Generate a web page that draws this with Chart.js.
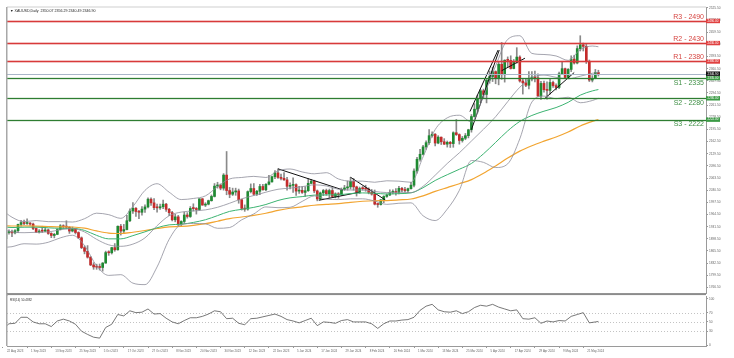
<!DOCTYPE html>
<html>
<head>
<meta charset="utf-8">
<script src="https://cdn.jsdelivr.net/npm/chart.js@4.4.1/dist/chart.umd.min.js"></script>
<style>
  html, body { margin:0; padding:0; background:#fff; }
  #wrap { position:relative; width:734px; height:358px; overflow:hidden; }
  #main { position:absolute; left:0; top:0; }
  #rsi  { position:absolute; left:0; top:294px; }
</style>
</head>
<body>
<div id="wrap">
  <canvas id="main" width="734" height="296"></canvas>
  <canvas id="rsi" width="734" height="64"></canvas>
</div>
<script>
// XAUUSD daily, 22 Aug 2023 -> 28 May 2024
const dates = [
  '22 Aug 2023','23 Aug 2023','24 Aug 2023','25 Aug 2023','28 Aug 2023','29 Aug 2023','30 Aug 2023','31 Aug 2023',
  '1 Sep 2023','4 Sep 2023','5 Sep 2023','6 Sep 2023','7 Sep 2023','8 Sep 2023','11 Sep 2023','12 Sep 2023',
  '13 Sep 2023','14 Sep 2023','15 Sep 2023','18 Sep 2023','19 Sep 2023','20 Sep 2023','21 Sep 2023','22 Sep 2023',
  '25 Sep 2023','26 Sep 2023','27 Sep 2023','28 Sep 2023','29 Sep 2023','2 Oct 2023','3 Oct 2023','4 Oct 2023',
  '5 Oct 2023','6 Oct 2023','9 Oct 2023','10 Oct 2023','11 Oct 2023','12 Oct 2023','13 Oct 2023','16 Oct 2023',
  '17 Oct 2023','18 Oct 2023','19 Oct 2023','20 Oct 2023','23 Oct 2023','24 Oct 2023','25 Oct 2023','26 Oct 2023',
  '27 Oct 2023','30 Oct 2023','31 Oct 2023','1 Nov 2023','2 Nov 2023','3 Nov 2023','6 Nov 2023','7 Nov 2023',
  '8 Nov 2023','9 Nov 2023','10 Nov 2023','13 Nov 2023','14 Nov 2023','15 Nov 2023','16 Nov 2023','17 Nov 2023',
  '20 Nov 2023','21 Nov 2023','22 Nov 2023','23 Nov 2023','24 Nov 2023','27 Nov 2023','28 Nov 2023','29 Nov 2023',
  '30 Nov 2023','1 Dec 2023','4 Dec 2023','5 Dec 2023','6 Dec 2023','7 Dec 2023','8 Dec 2023','11 Dec 2023',
  '12 Dec 2023','13 Dec 2023','14 Dec 2023','15 Dec 2023','18 Dec 2023','19 Dec 2023','20 Dec 2023','21 Dec 2023',
  '22 Dec 2023','26 Dec 2023','27 Dec 2023','28 Dec 2023','29 Dec 2023','2 Jan 2024','3 Jan 2024','4 Jan 2024',
  '5 Jan 2024','8 Jan 2024','9 Jan 2024','10 Jan 2024','11 Jan 2024','12 Jan 2024','15 Jan 2024','16 Jan 2024',
  '17 Jan 2024','18 Jan 2024','19 Jan 2024','22 Jan 2024','23 Jan 2024','24 Jan 2024','25 Jan 2024','26 Jan 2024',
  '29 Jan 2024','30 Jan 2024','31 Jan 2024','1 Feb 2024','2 Feb 2024','5 Feb 2024','6 Feb 2024','7 Feb 2024',
  '8 Feb 2024','9 Feb 2024','12 Feb 2024','13 Feb 2024','14 Feb 2024','15 Feb 2024','16 Feb 2024','19 Feb 2024',
  '20 Feb 2024','21 Feb 2024','22 Feb 2024','23 Feb 2024','26 Feb 2024','27 Feb 2024','28 Feb 2024','29 Feb 2024',
  '1 Mar 2024','4 Mar 2024','5 Mar 2024','6 Mar 2024','7 Mar 2024','8 Mar 2024','11 Mar 2024','12 Mar 2024',
  '13 Mar 2024','14 Mar 2024','15 Mar 2024','18 Mar 2024','19 Mar 2024','20 Mar 2024','21 Mar 2024','22 Mar 2024',
  '25 Mar 2024','26 Mar 2024','27 Mar 2024','28 Mar 2024','1 Apr 2024','2 Apr 2024','3 Apr 2024','4 Apr 2024',
  '5 Apr 2024','8 Apr 2024','9 Apr 2024','10 Apr 2024','11 Apr 2024','12 Apr 2024','15 Apr 2024','16 Apr 2024',
  '17 Apr 2024','18 Apr 2024','19 Apr 2024','22 Apr 2024','23 Apr 2024','24 Apr 2024','25 Apr 2024','26 Apr 2024',
  '29 Apr 2024','30 Apr 2024','1 May 2024','2 May 2024','3 May 2024','6 May 2024','7 May 2024','8 May 2024',
  '9 May 2024','10 May 2024','13 May 2024','14 May 2024','15 May 2024','16 May 2024','17 May 2024','20 May 2024',
  '21 May 2024','22 May 2024','23 May 2024','24 May 2024','27 May 2024','28 May 2024'
];

const opens = [
  1894.5,1899.0,1915.5,1917.0,1914.5,1920.5,1937.5,1942.5,1940.0,1940.0,
  1938.5,1926.5,1916.5,1919.5,1919.0,1922.5,1913.0,1907.5,1910.5,1923.5,
  1933.5,1931.0,1930.0,1919.5,1925.0,1915.5,1901.0,1874.5,1864.5,1848.5,
  1827.5,1822.0,1821.5,1820.5,1832.5,1861.0,1860.5,1874.5,1868.5,1932.5,
  1919.5,1923.5,1947.5,1974.0,1981.5,1972.5,1970.5,1979.0,1985.0,2006.0,
  1996.0,1983.0,1982.5,1985.5,1992.5,1978.5,1969.5,1950.0,1958.0,1938.0,
  1945.5,1963.0,1959.0,1981.0,1980.5,1978.0,2007.0,1990.0,1992.5,2002.0,
  2013.5,2041.5,2044.5,2036.0,2071.5,2029.5,2019.5,2025.5,2028.5,2004.5,
  1981.0,1979.0,2026.5,2035.0,2019.5,2027.5,2040.5,2031.5,2046.5,2053.0,
  2067.0,2077.5,2065.0,2062.5,2058.5,2041.0,2043.5,2045.5,2028.0,2030.0,
  2024.5,2029.0,2049.0,2055.0,2028.5,2006.5,2023.0,2029.5,2021.0,2029.5,
  2013.5,2020.5,2018.0,2032.5,2036.5,2039.5,2054.5,2039.5,2024.5,2035.0,
  2034.5,2033.5,2024.5,2020.0,1992.5,1991.5,2004.0,2013.5,2017.5,2024.5,
  2025.5,2024.5,2035.5,2031.0,2029.5,2034.5,2044.0,2082.5,2114.5,2128.0,
  2148.0,2159.5,2178.5,2182.5,2158.5,2174.5,2162.0,2155.5,2160.5,2157.0,
  2186.5,2181.5,2165.5,2171.5,2178.5,2194.5,2230.5,2250.5,2280.0,2300.5,
  2290.5,2329.5,2339.0,2352.5,2333.5,2372.5,2344.0,2383.5,2383.0,2361.0,
  2379.0,2392.0,2327.0,2322.0,2315.5,2332.5,2337.5,2335.5,2286.0,2320.5,
  2303.5,2301.5,2323.0,2314.5,2309.5,2346.5,2360.5,2336.5,2358.5,2386.5,
  2376.0,2415.0,2425.5,2421.0,2379.5,2329.5,2334.0,2350.07
];
const highs = [
  1903.5,1917.0,1922.5,1922.0,1923.5,1938.5,1948.5,1949.5,1952.5,1942.5,
  1941.0,1928.5,1923.5,1932.5,1929.5,1925.0,1915.0,1913.5,1925.5,1937.0,
  1936.5,1947.5,1931.5,1930.5,1926.0,1917.5,1903.5,1879.5,1880.0,1850.0,
  1833.5,1829.5,1830.0,1834.0,1865.0,1866.0,1875.5,1885.5,1933.5,1937.5,
  1937.5,1962.5,1980.0,1997.0,1983.0,1975.5,1986.0,1990.5,2009.5,2009.5,
  2007.5,1993.0,1993.0,2003.5,1995.0,1981.0,1973.0,1965.0,1962.0,1947.5,
  1971.0,1969.5,1986.0,1993.5,1983.5,2007.5,2008.0,1996.5,2003.5,2017.5,
  2048.5,2052.0,2047.5,2075.5,2135.5,2038.0,2036.0,2036.0,2033.5,2006.0,
  1990.5,2028.5,2047.5,2048.5,2030.0,2046.5,2046.5,2048.5,2070.5,2068.5,
  2083.5,2088.5,2074.5,2078.5,2065.5,2050.5,2064.0,2048.0,2041.0,2040.5,
  2040.0,2062.5,2060.0,2057.5,2031.0,2025.5,2032.5,2033.5,2033.5,2037.0,
  2023.5,2024.0,2036.5,2043.5,2055.5,2065.5,2062.0,2041.5,2039.0,2040.5,
  2044.0,2037.0,2032.5,2031.0,1995.5,2005.5,2015.5,2020.5,2031.5,2031.5,
  2034.5,2041.0,2038.5,2038.5,2036.0,2052.0,2088.5,2119.5,2141.5,2152.5,
  2164.5,2195.0,2189.0,2184.5,2178.5,2175.0,2170.5,2164.0,2163.0,2189.0,
  2222.5,2183.5,2176.5,2184.5,2196.0,2236.0,2265.5,2288.5,2304.5,2305.0,
  2331.0,2354.0,2365.0,2354.5,2378.5,2431.5,2384.5,2392.5,2395.5,2385.5,
  2417.5,2395.5,2334.0,2332.0,2352.5,2352.5,2354.0,2346.5,2326.0,2326.5,
  2324.5,2331.5,2326.5,2319.0,2351.5,2378.5,2362.0,2361.0,2395.5,2397.0,
  2422.5,2450.0,2430.0,2426.5,2384.0,2341.5,2358.5,2356.29
];
const lows = [
  1893.5,1896.0,1911.0,1904.5,1912.0,1915.0,1932.5,1937.0,1937.5,1935.0,
  1923.0,1915.5,1914.0,1915.5,1918.0,1910.5,1901.5,1901.0,1909.5,1922.5,
  1926.5,1925.5,1913.0,1917.0,1911.5,1899.5,1871.5,1857.5,1846.0,1825.5,
  1815.5,1815.5,1813.5,1810.5,1832.0,1853.5,1857.0,1864.5,1867.5,1908.5,
  1915.0,1922.5,1945.0,1967.5,1959.5,1953.0,1962.5,1970.0,1982.0,1989.0,
  1977.5,1970.5,1978.5,1980.0,1972.5,1961.5,1947.0,1944.5,1931.5,1932.0,
  1940.5,1954.5,1956.5,1974.0,1965.5,1975.5,1989.5,1986.0,1990.5,2000.5,
  2012.0,2036.0,2031.5,2030.5,2018.0,2010.0,2016.0,2016.5,1995.0,1976.5,
  1973.0,1976.0,2023.0,2016.5,2016.0,2018.0,2030.5,2029.0,2045.0,2052.0,
  2061.5,2062.5,2058.5,2057.0,2030.5,2034.0,2024.5,2016.5,2021.5,2021.5,
  2013.5,2027.0,2048.0,2023.5,2001.5,2004.5,2015.5,2016.5,2010.5,2011.5,
  2009.5,2008.5,2016.0,2030.0,2030.5,2033.5,2030.5,2014.5,2021.5,2030.5,
  2027.5,2020.5,2017.0,1990.5,1984.0,1990.0,1996.5,2011.0,2015.5,2020.5,
  2017.0,2020.5,2025.5,2025.0,2024.0,2033.0,2039.5,2077.0,2109.5,2126.0,
  2141.0,2154.5,2174.5,2150.5,2156.5,2154.5,2154.5,2147.5,2146.5,2147.0,
  2179.0,2155.5,2161.0,2167.5,2172.5,2188.0,2228.5,2240.5,2268.0,2279.5,
  2267.5,2321.0,2325.5,2319.5,2316.5,2331.5,2324.0,2365.0,2359.5,2360.0,
  2375.5,2324.0,2291.5,2311.5,2305.5,2327.5,2324.5,2285.5,2277.0,2297.0,
  2277.5,2291.5,2309.5,2303.0,2306.5,2344.5,2334.0,2335.0,2352.5,2373.0,
  2373.5,2408.5,2408.5,2374.5,2325.5,2324.5,2333.0,2340.49
];
const closes = [
  1899.0,1915.5,1917.0,1914.5,1920.5,1937.5,1942.5,1940.0,1940.0,1938.5,
  1926.5,1916.5,1919.5,1919.0,1922.5,1913.0,1907.5,1910.5,1923.5,1933.5,
  1931.0,1930.0,1919.5,1925.0,1915.5,1901.0,1874.5,1864.5,1848.5,1827.5,
  1822.0,1821.5,1820.5,1832.5,1861.0,1860.5,1874.5,1868.5,1932.5,1919.5,
  1923.5,1947.5,1974.0,1981.5,1972.5,1970.5,1979.0,1985.0,2006.0,1996.0,
  1983.0,1982.5,1985.5,1992.5,1978.5,1969.5,1950.0,1958.0,1938.0,1945.5,
  1963.0,1959.0,1981.0,1980.5,1978.0,2007.0,1990.0,1992.5,2002.0,2013.5,
  2041.5,2044.5,2036.0,2071.5,2029.5,2019.5,2025.5,2028.5,2004.5,1981.0,
  1979.0,2026.5,2035.0,2019.5,2027.5,2040.5,2031.5,2046.5,2053.0,2067.0,
  2077.5,2065.0,2062.5,2058.5,2041.0,2043.5,2045.5,2028.0,2030.0,2024.5,
  2029.0,2049.0,2055.0,2028.5,2006.5,2023.0,2029.5,2021.0,2029.5,2013.5,
  2020.5,2018.0,2032.5,2036.5,2039.5,2054.5,2039.5,2024.5,2035.0,2034.5,
  2033.5,2024.5,2020.0,1992.5,1991.5,2004.0,2013.5,2017.5,2024.5,2025.5,
  2024.5,2035.5,2031.0,2029.5,2034.5,2044.0,2082.5,2114.5,2128.0,2148.0,
  2159.5,2178.5,2182.5,2158.5,2174.5,2162.0,2155.5,2160.5,2157.0,2186.5,
  2181.5,2165.5,2171.5,2178.5,2194.5,2230.5,2250.5,2280.0,2300.5,2290.5,
  2329.5,2339.0,2352.5,2333.5,2372.5,2344.0,2383.5,2383.0,2361.0,2379.0,
  2392.0,2327.0,2322.0,2315.5,2332.5,2337.5,2335.5,2286.0,2320.5,2303.5,
  2301.5,2323.0,2314.5,2309.5,2346.5,2360.5,2336.5,2358.5,2386.5,2376.0,
  2415.0,2425.5,2421.0,2379.5,2329.5,2334.0,2350.0,2346.90
];

// indicator lines at these bar positions
const indAt    = [0,3,7,11,15,19,23,27,31,35,39,43,47,51,55,59,63,67,71,75,79,83,87,91,95,99,
                  103,107,111,115,119,123,127,131,135,139,143,147,151,155,159,163,167,171,175,179,183,187,191,195,197];
const bbUpper  = [1975,1957,1945,1948,1945,1945,1944,1953,1968,1964,1954,1986,2030,2048,2025,2005,2008,2015,2040,2061,2065,2068,2065,2083,2088,2080,
                  2075,2078,2061,2055,2055,2052,2056,2055,2052,2121,2195,2227,2234,2216,2286,2368,2440,2450,2402,2399,2395,2383,2412,2422,2420];
const bbMiddle = [1925,1917,1915,1916,1917,1923,1926,1917,1897,1882,1878,1884,1901,1934,1961,1971,1974,1977,1984,1995,2007,2016,2025,2033,2036,2040,
                  2045,2042,2033,2031,2031,2027,2024,2025,2024,2041,2071,2103,2132,2164,2196,2230,2271,2310,2336,2343,2337,2333,2340,2348,2350];
const bbLower  = [1875,1877,1885,1884,1889,1901,1908,1880,1825,1799,1801,1778,1774,1822,1897,1937,1940,1939,1927,1929,1950,1966,1985,1983,1984,2000,
                  2015,2006,2005,2007,2007,2001,1992,1995,1996,1961,1948,1979,2030,2111,2106,2092,2102,2170,2270,2286,2279,2283,2268,2274,2280];
const ema50    = [1931,1929.0,1929.9,1930.0,1928.3,1926.9,1926.8,1921.2,1907.7,1898.3,1898.3,1907.0,1917.4,1928.4,1936.3,1938.0,1942.9,1950.2,1961.4,1972.9,
                  1978.4,1983.8,1991.6,2002.5,2009.7,2013.0,2017.1,2017.6,2018.0,2021.3,2023.1,2022.3,2020.0,2021.1,2023.1,2037.2,2056.8,2072.5,2087.3,2103.1,
                  2129.3,2160.3,2191.5,2217.2,2233.4,2245.0,2254.9,2269.1,2288.6,2300.1,2303.8];
const ema100   = [1934,1933.2,1933.3,1933.1,1931.9,1930.9,1930.5,1927.3,1919.8,1914.0,1912.8,1916.2,1920.9,1926.4,1930.7,1932.0,1935.0,1939.4,1946.1,1953.3,
                  1957.7,1962.2,1967.9,1975.5,1981.4,1985.3,1989.5,1991.8,1994.0,1997.6,2000.4,2001.8,2002.2,2004.1,2006.5,2015.1,2027.1,2037.6,2048.0,2059.2,
                  2076.2,2096.4,2117.6,2136.6,2151.3,2163.6,2175.0,2188.5,2204.9,2217.3,2222.4];

const rsiAt = [0,2,4,6,8,10,12,14,16,18,20,22,24,26,28,30,32,34,36,38,40,42,44,46,48,50,52,54,56,58,
               60,62,64,66,68,70,72,74,76,78,80,82,84,86,88,90,92,94,96,98,100,102,104,106,108,110,112,114,116,118,
               120,122,124,126,128,130,132,134,136,138,140,142,144,146,148,150,152,154,156,158,160,162,164,166,168,170,172,174,176,178,
               180,182,184,186,188,190,192,194,196,197];
const rsi   = [35,46,47,60,60,50,46,46,40,52,56,52,45,30,23,17,15,38,45,66,63,74,70,71,78,67,68,58,50,46,
               53,59,59,62,67,74,72,57,58,47,44,57,58,61,64,67,62,55,52,48,53,58,42,50,49,47,53,55,50,50,
               50,46,36,46,52,52,54,55,60,75,84,88,76,72,71,74,68,72,81,86,84,88,82,78,74,76,57,56,59,47,
               52,50,53,52,62,66,70,48,50,51];

const yTicks   = [1766.5,1799.5,1832.5,1865.5,1898.5,1931.5,1964.5,1997.5,2030.5,2063.5,2096.5,2129.5,
                  2162.5,2195.5,2228.5,2261.5,2294.5,2327.5,2360.5,2393.5,2426.5,2459.5,2492.5,2525.5];
const rsiTicks = [0,30,50,70,100];
const rsiGuides = [30,50,70];
const xTickAt  = [0,8,16,24,32,40,48,56,64,72,80,88,96,104,112,120,128,136,144,152,160,168,176,184,192];

const resLevels = [2490, 2430, 2380];
const resLabels = ['R3 - 2490', 'R2 - 2430', 'R1 - 2380'];
const supLevels = [2335, 2280, 2222];
const supLabels = ['S1 - 2335', 'S2 - 2280', 'S3 - 2222'];
const lastPrice = 2346.90;

// hand drawn trendlines: [bar, price] ends
const trendLines = [
  [[91, 2088.5], [112.5, 2031]],
  [[104.5, 2003], [118, 2025]],
  [[115, 2065.5], [126.5, 2004]],
  [[155, 2195], [164.2, 2411]],
  [[154.5, 2244], [163.8, 2411]],
  [[165, 2355], [172.7, 2389]],
  [[179.2, 2279], [189, 2350]],
];

const header    = '\u25BC XAUUSD,Daily  2350.07 2356.29 2340.49 2346.90';
const rsiHeader = 'RSI(14) 50.4882';

const C = {
  up:    '#1f8a32',
  down:  '#c42b2b',
  wick:  '#8a8a8a',
  band:  '#8e8e9a',
  ema50: '#3cb371',
  ema100:'#f2a531',
  res:   '#d83a3a',
  resTxt:'#d64541',
  sup:   '#2e7d32',
  supTxt:'#3f8f45',
  last:  '#a9b6c9',
  axis:  '#9a9a9a',
  txt:   '#666',
};

const FONT = '"Liberation Sans", Arial, sans-serif';
Chart.defaults.font.family = FONT;
const X_MIN = 1.35, X_MAX = 232.6;

const pts = (xs, ys) => xs.map((x, i) => ({ x, y: ys[i] }));
const lineDs = (data, color, width) => ({
  type: 'line', data, borderColor: color, borderWidth: width,
  pointRadius: 0, cubicInterpolationMode: 'monotone', order: 0, clip: 0,
});

const mainOverlay = {
  id: 'mainOverlay',
  afterDatasetsDraw(chart) {
    const { ctx, chartArea: a, scales: { y } } = chart;
    const hline = (v, color, w) => {
      const py = Math.round(y.getPixelForValue(v));
      ctx.fillStyle = color;
      ctx.fillRect(a.left, py - w / 2 + 0.5, a.right - a.left, w);
    };
    ctx.save();
    hline(lastPrice, C.last, 1);
    resLevels.forEach(v => hline(v, C.res, 1.6));
    supLevels.forEach(v => hline(v, C.sup, 1.3));
    ctx.font = '7px ' + FONT;
    ctx.textAlign = 'right';
    ctx.textBaseline = 'alphabetic';
    ctx.fillStyle = C.resTxt;
    resLevels.forEach((v, i) => ctx.fillText(resLabels[i], a.right - 2, y.getPixelForValue(v) - 2));
    ctx.fillStyle = C.supTxt;
    supLevels.forEach((v, i) => ctx.fillText(supLabels[i], a.right - 2, y.getPixelForValue(v) + 6.5));
    ctx.restore();
  },
  afterDraw(chart) {
    const { ctx, chartArea: a, scales: { y } } = chart;
    ctx.save();
    // frame
    ctx.fillStyle = '#d0d0d0'; ctx.fillRect(a.left, a.top - 0.5, a.right - a.left, 1);
    ctx.fillStyle = '#a8a8a8'; ctx.fillRect(a.left - 1, a.top, 1.5, chart.height - a.top);
    ctx.fillStyle = '#8c8c8c'; ctx.fillRect(a.left, a.bottom, a.right - a.left, 2);
    // header
    ctx.font = '3.6px ' + FONT; ctx.fillStyle = '#222';
    ctx.textAlign = 'left'; ctx.textBaseline = 'middle';
    ctx.fillText(header, a.left + 3, a.top + 3.5);
    // price boxes on the axis
    const box = (v, color) => {
      const py = y.getPixelForValue(v);
      ctx.fillStyle = color; ctx.fillRect(a.right, py - 2.2, 14, 4.4);
      ctx.fillStyle = '#fff'; ctx.font = '3px ' + FONT;
      ctx.textAlign = 'center'; ctx.textBaseline = 'middle';
      ctx.fillText(v.toFixed(2), a.right + 7, py);
    };
    resLevels.forEach(v => box(v, '#e04040'));
    supLevels.forEach(v => box(v, '#3b9a45'));
    box(lastPrice, '#111');
    ctx.restore();
  }
};

new Chart(document.getElementById('main'), {
  type: 'bar',
  data: {
    datasets: [
      lineDs(pts(indAt, bbUpper),  C.band, 0.8),
      lineDs(pts(indAt, bbMiddle), C.band, 0.8),
      lineDs(pts(indAt, bbLower),  C.band, 0.8),
      lineDs(pts(indAt, ema50),    C.ema50, 1),
      lineDs(pts(indAt, ema100),   C.ema100, 1.2),
      ...trendLines.map(t => ({
        type: 'line', data: t.map(p => ({ x: p[0], y: p[1] })),
        borderColor: '#111', borderWidth: 1, pointRadius: 0, order: 0, clip: 0,
      })),
      {
        type: 'bar',
        data: dates.map((d, i) => ({ x: i, y: [opens[i], closes[i]] })),
        backgroundColor: dates.map((d, i) => closes[i] >= opens[i] ? C.up : C.down),
        barThickness: 2, minBarLength: 1, grouped: false, order: 1, clip: 0,
      },
      {
        type: 'bar',
        data: dates.map((d, i) => ({ x: i, y: [lows[i], highs[i]] })),
        backgroundColor: C.wick,
        barThickness: 1, grouped: false, order: 2, clip: 0,
      },
    ]
  },
  options: {
    responsive: false, animation: false, devicePixelRatio: 1, events: [],
    layout: { padding: { left: 7, top: 7, right: 0, bottom: 2 } },
    plugins: { legend: { display: false }, tooltip: { enabled: false } },
    scales: {
      x: { type: 'linear', min: X_MIN, max: X_MAX, offset: false, display: false, grid: { offset: false } },
      y: {
        position: 'right', min: 1751, max: 2528,
        afterFit: s => { s.width = 28; },
        afterBuildTicks: s => { s.ticks = yTicks.map(v => ({ value: v })); },
        ticks: { font: { size: 3.2 }, color: C.txt, padding: 1, callback: v => Number(v).toFixed(2) },
        grid: { drawOnChartArea: false, tickLength: 2, color: C.axis },
        border: { display: true, color: C.axis },
      },
    },
  },
  plugins: [mainOverlay],
});

const rsiOverlay = {
  id: 'rsiOverlay',
  beforeDatasetsDraw(chart) {
    const { ctx, chartArea: a, scales: { y } } = chart;
    ctx.save();
    ctx.strokeStyle = '#b4b4b4'; ctx.lineWidth = 0.8; ctx.setLineDash([1, 2]);
    rsiGuides.forEach(v => {
      const py = Math.round(y.getPixelForValue(v)) + 0.5;
      ctx.beginPath(); ctx.moveTo(a.left, py); ctx.lineTo(a.right, py); ctx.stroke();
    });
    ctx.restore();
  },
  afterDraw(chart) {
    const { ctx, chartArea: a } = chart;
    ctx.save();
    ctx.fillStyle = '#a8a8a8'; ctx.fillRect(a.left - 1, 0, 1.5, a.bottom);
    ctx.font = '3px ' + FONT; ctx.fillStyle = '#333';
    ctx.textAlign = 'left'; ctx.textBaseline = 'middle';
    ctx.fillText(rsiHeader, a.left + 3, a.top + 3.5);
    ctx.restore();
  }
};

new Chart(document.getElementById('rsi'), {
  type: 'line',
  data: {
    datasets: [{
      data: pts(rsiAt, rsi), borderColor: '#555', borderWidth: 0.8,
      pointRadius: 0, tension: 0, clip: 0,
    }]
  },
  options: {
    responsive: false, animation: false, devicePixelRatio: 1, events: [],
    layout: { padding: { left: 7, top: 2, right: 0, bottom: 0 } },
    plugins: { legend: { display: false }, tooltip: { enabled: false } },
    scales: {
      x: {
        type: 'linear', min: X_MIN, max: X_MAX, offset: false,
        afterFit: s => { s.height = 12; },
        afterBuildTicks: s => { s.ticks = xTickAt.map(v => ({ value: v })); },
        ticks: {
          autoSkip: false, minRotation: 0, maxRotation: 0, align: 'start', labelOffset: 4,
          padding: 1, font: { size: 2.9 }, color: C.txt, callback: v => dates[v],
        },
        grid: { drawOnChartArea: false, tickLength: 2, color: C.axis },
        border: { display: true, color: C.axis },
      },
      y: {
        position: 'right', min: -2, max: 104,
        afterFit: s => { s.width = 28; },
        afterBuildTicks: s => { s.ticks = rsiTicks.map(v => ({ value: v })); },
        ticks: { font: { size: 3.2 }, color: C.txt, padding: 1 },
        grid: { drawOnChartArea: false, tickLength: 2, color: C.axis },
        border: { display: true, color: C.axis },
      },
    },
  },
  plugins: [rsiOverlay],
});
</script>
</body>
</html>
